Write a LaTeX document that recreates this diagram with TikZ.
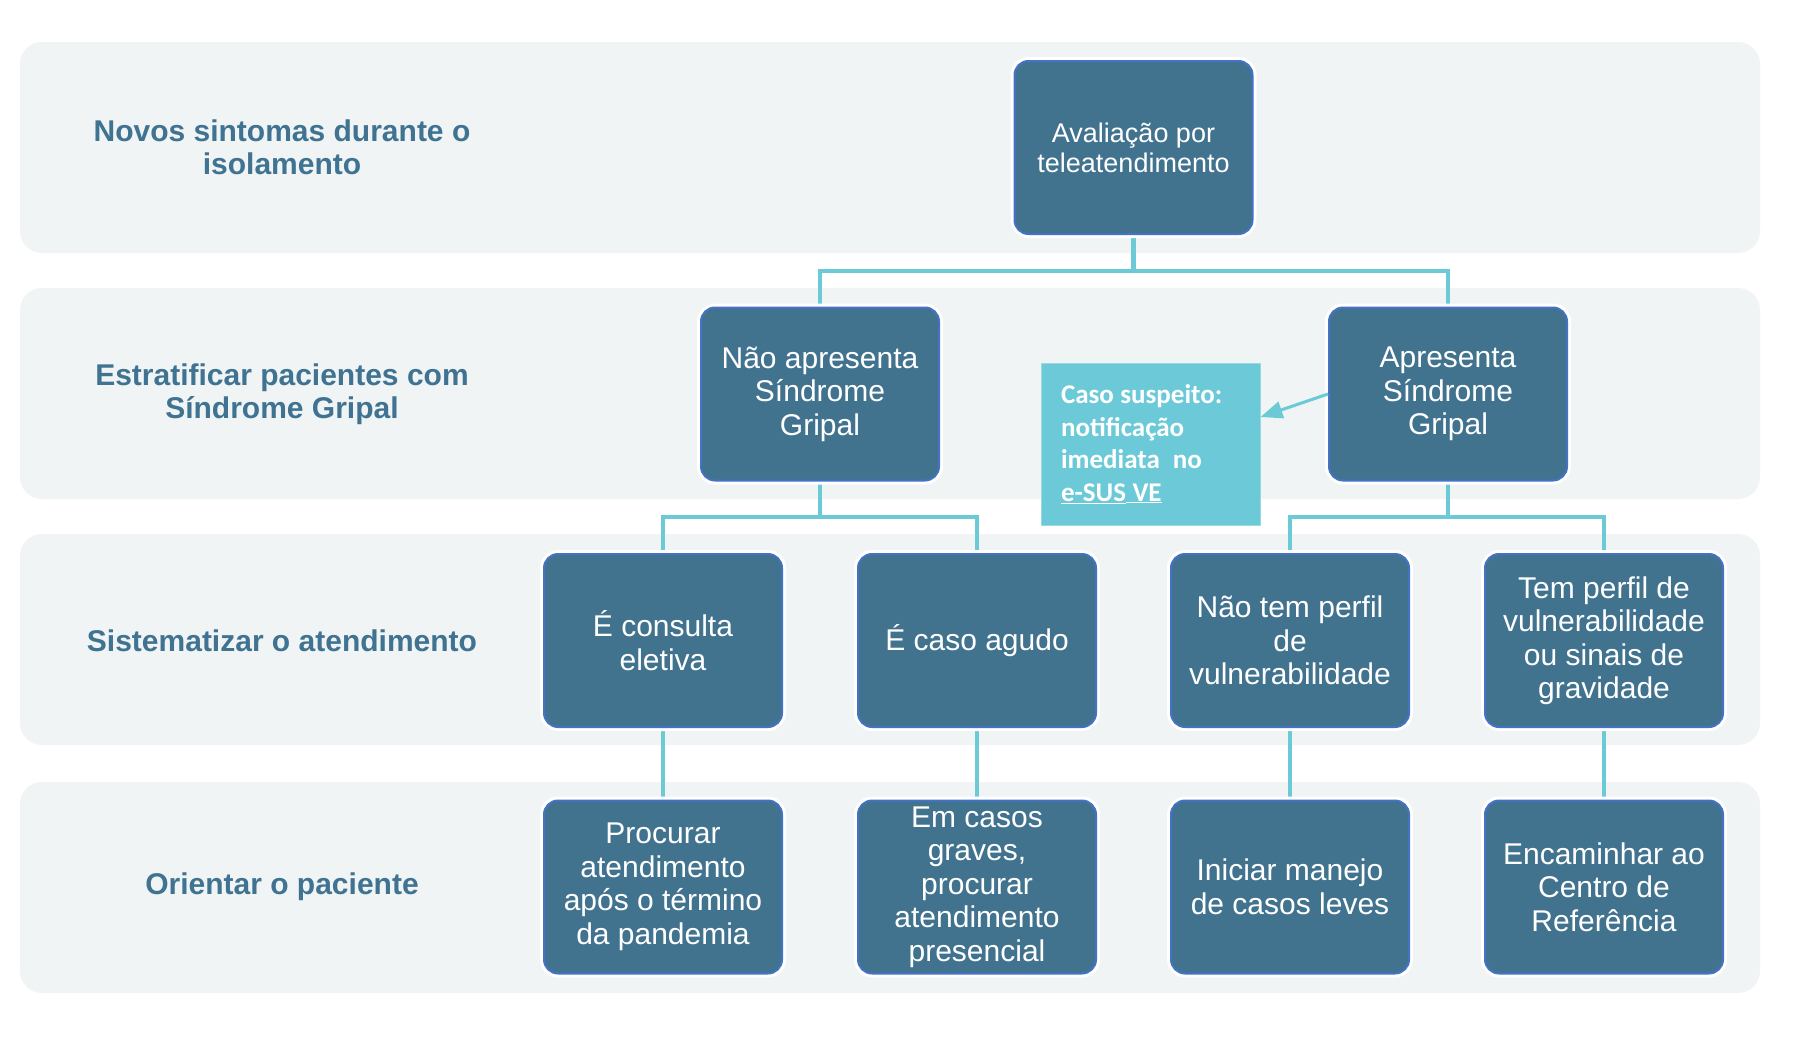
\documentclass[tikz,border=0pt]{standalone}
\usepackage{fontspec}
\setmainfont{Liberation Sans}
\newfontfamily\calib{Carlito}
\usetikzlibrary{arrows.meta}
\pgfdeclarelayer{bg}
\pgfdeclarelayer{lines}
\pgfsetlayers{bg,lines,main}
\definecolor{bandc}{HTML}{F0F4F5}
\definecolor{boxc}{HTML}{41738F}
\definecolor{boxedge}{HTML}{4472C4}
\definecolor{connc}{HTML}{6CCAD6}
\definecolor{casoc}{HTML}{6CCAD8}
\definecolor{labc}{HTML}{3F7391}
\begin{document}
\begin{tikzpicture}[x=1pt,y=-1pt,
  band/.style={fill=bandc, rounded corners=22pt},
  lab/.style={text=labc, font=\bfseries\fontsize{30}{33.5}\selectfont, align=center, inner sep=0pt},
  box/.style={fill=boxc, draw=boxedge, line width=2pt, rounded corners=14pt,
    preaction={draw=white, line width=8pt},
    minimum width=238pt, minimum height=173pt, inner sep=2pt, text=white,
    align=center, font=\fontsize{30}{33.5}\selectfont},
  conn/.style={draw=connc, line width=4.5pt},
  arr/.style={draw=connc, line width=3pt, -{Triangle[length=22pt,width=17pt]}},
  caso/.style={fill=casoc, draw=connc!70!white, line width=1pt,
    minimum width=219pt, minimum height=162pt, text width=179pt, inner xsep=20pt,
    align=left, text=white, font=\calib\bfseries\fontsize{27}{32.5}\selectfont}
]
\useasboundingbox (0,0) rectangle (1800,1044);

% bands
\begin{pgfonlayer}{bg}
\fill[white] (0,0) rectangle (1800,1044);
\fill[band] (20,42) rectangle (1760,253);
\fill[band] (20,288) rectangle (1760,499);
\fill[band] (20,534) rectangle (1760,745);
\fill[band] (20,782) rectangle (1760,993);
\end{pgfonlayer}

% row labels
\node[lab] (l1) at (282,147.5) {Novos sintomas durante o\\isolamento};
\node[lab] (l2) at (282,394) {Estratificar pacientes com\\Síndrome Gripal};
\node[lab] (l3) at (282,640.5) {Sistematizar o atendimento};
\node[lab] (l4) at (282,887) {Orientar o paciente};

% boxes
\node[box, font=\fontsize{27}{30}\selectfont] (top) at (1133.5,147.5) {Avaliação por\\teleatendimento};
\node[box] (nao) at (820,394) {Não apresenta\\Síndrome\\Gripal};
\node[box] (apr) at (1448,394) {Apresenta\\Síndrome\\Gripal};

\node[box] (c1) at (663,640.5) {É consulta\\eletiva};
\node[box] (c2) at (977,640.5) {É caso agudo};
\node[box] (c3) at (1290,640.5) {Não tem perfil\\de\\vulnerabilidade};
\node[box] (c4) at (1604,640.5) {Tem perfil de\\vulnerabilidade\\ou sinais de\\gravidade};

\node[box] (d1) at (663,887) {Procurar\\atendimento\\após o término\\da pandemia};
\node[box] (d2) at (977,887) {Em casos\\graves,\\procurar\\atendimento\\presencial};
\node[box] (d3) at (1290,887) {Iniciar manejo\\de casos leves};
\node[box] (d4) at (1604,887) {Encaminhar ao\\Centro de\\Referência};

\node[caso] (caso) at (1150.5,444) {\spaceskip=6.5pt\relax Caso suspeito:\\notificação\\imediata\hspace{13pt}no\\\underline{e-SUS}\underline{\hspace{6.5pt}}\underline{VE}};

% connectors
\coordinate (j1) at (1133.5,271);
\coordinate (j2) at (820,517);
\coordinate (j3) at (1448,517);
\begin{pgfonlayer}{lines}
\draw[conn] (top.south) -- (j1);
\draw[conn] (nao.north) |- (j1) -| (apr.north);
\draw[conn] (nao.south) -- (j2);
\draw[conn] (c1.north) |- (j2) -| (c2.north);
\draw[conn] (apr.south) -- (j3);
\draw[conn] (c3.north) |- (j3) -| (c4.north);
\draw[conn] (c1.south) -- (d1.north);
\draw[conn] (c2.south) -- (d2.north);
\draw[conn] (c3.south) -- (d3.north);
\draw[conn] (c4.south) -- (d4.north);
\end{pgfonlayer}
\draw[arr] (apr.west) -- ([yshift=27pt]caso.east);
\end{tikzpicture}
\end{document}
